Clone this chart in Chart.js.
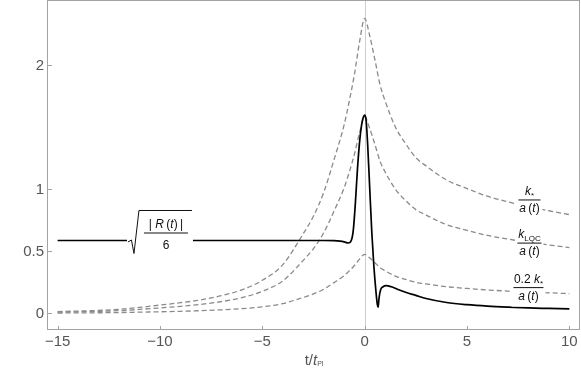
<!DOCTYPE html>
<html lang="en">
<head>
  <meta charset="UTF-8">
  <title>Bounce curvature scale</title>
  <style>
    body { margin: 0; padding: 0; background: #fff; overflow: hidden; }
    canvas { display: block; }
  </style>
</head>
<body>
<canvas id="bounceChart" width="581" height="372"></canvas>

<script src="https://cdn.jsdelivr.net/npm/chart.js"></script>
<script>
  // time grid for the k/a(t) curves (units of t_Pl)
  const tGrid = [-15, -14, -13, -12, -11, -10, -9, -8, -7, -6, -5, -4, -3, -2.5, -2, -1.5, -1, -0.75, -0.5, -0.25,
    0, 0.25, 0.5, 0.75, 1, 1.5, 2, 2.5, 3, 4, 5, 6, 7, 8, 9, 10];
  // k_* / a(t)
  const kStar = [0.014, 0.019, 0.024, 0.033, 0.048, 0.067, 0.086, 0.109, 0.143, 0.190, 0.267, 0.393, 0.643, 0.785, 0.976, 1.238, 1.523, 1.714, 1.928, 2.19,
    2.38, 2.237, 2.047, 1.845, 1.714, 1.504, 1.369, 1.257, 1.19, 1.076, 1.007, 0.945, 0.90, 0.862, 0.828, 0.797];
  // k_LQC / a(t)
  const kLqc = [0.010, 0.013, 0.016, 0.022, 0.032, 0.044, 0.057, 0.073, 0.095, 0.127, 0.178, 0.262, 0.428, 0.523, 0.650, 0.824, 1.014, 1.141, 1.284, 1.458,
    1.585, 1.490, 1.363, 1.228, 1.141, 1.002, 0.911, 0.837, 0.793, 0.716, 0.670, 0.629, 0.599, 0.574, 0.552, 0.531];
  // 0.2 k_* / a(t)
  const kStarSmall = [0.003, 0.004, 0.005, 0.007, 0.010, 0.013, 0.017, 0.022, 0.029, 0.038, 0.053, 0.079, 0.129, 0.157, 0.195, 0.248, 0.305, 0.343, 0.386, 0.438,
    0.476, 0.447, 0.409, 0.369, 0.343, 0.301, 0.274, 0.251, 0.238, 0.215, 0.201, 0.189, 0.180, 0.172, 0.166, 0.159];

  // sqrt(|R(t)|/6)
  const tR = [-15, -10, -5, -2, -1.5, -1.2, -1, -0.8, -0.65, -0.55, -0.45, -0.35, -0.25, -0.15, -0.07, 0,
    0.07, 0.15, 0.25, 0.35, 0.45, 0.55, 0.62, 0.66, 0.7, 0.78, 0.9, 1.05, 1.3, 1.6, 2, 2.5, 3, 4, 5, 6, 7, 8, 9, 10];
  const sqrtR = [0.588, 0.588, 0.588, 0.588, 0.587, 0.583, 0.577, 0.568, 0.59, 0.68, 0.9, 1.17, 1.38, 1.52, 1.58, 1.60,
    1.56, 1.35, 1.0, 0.65, 0.38, 0.18, 0.07, 0.05, 0.12, 0.19, 0.215, 0.224, 0.215, 0.195, 0.17, 0.145, 0.12, 0.088, 0.07, 0.058, 0.05, 0.044, 0.04, 0.036];

  const xTicks = [-15, -10, -5, 0, 5, 10];
  const yTicks = [0, 0.5, 1, 2];

  const FONT = '"Liberation Sans", Arial, sans-serif';
  const frameColor = '#a3a3a3';
  const labelColor = '#555';

  function pts(xs, ys) {
    return xs.map((x, i) => ({ x: x, y: ys[i] }));
  }

  // draw a row of text pieces centred on cx
  function drawRich(ctx, pieces, cx, y) {
    let w = 0;
    pieces.forEach(p => { ctx.font = p.f; p.w = ctx.measureText(p.t).width; w += p.w; });
    let x = cx - w / 2;
    ctx.textBaseline = 'alphabetic';
    ctx.textAlign = 'left';
    pieces.forEach(p => {
      ctx.font = p.f;
      ctx.fillText(p.t, x, y + (p.dy || 0));
      x += p.w;
    });
  }

  const it = s => 'italic ' + s + 'px ' + FONT;
  const rm = s => s + 'px ' + FONT;

  function aOfT(ctx, cx, y) {
    drawRich(ctx, [
      { t: 'a', f: it(12) }, { t: '\u2009(', f: rm(12) }, { t: 't', f: it(12) }, { t: ')', f: rm(12) }
    ], cx, y);
  }

  function fractionLabel(ctx, cx, barY, barW, top) {
    ctx.fillStyle = '#fff';
    ctx.fillRect(cx - barW / 2 - 2, barY - 17, barW + 4, 36);
    ctx.fillStyle = '#111';
    drawRich(ctx, top, cx, barY - 5);
    ctx.fillRect(cx - barW / 2, barY - 0.5, barW, 1);
    aOfT(ctx, cx, barY + 12);
  }

  const framePlugin = {
    id: 'framePlugin',
    beforeDatasetsDraw(chart) {
      const { ctx, chartArea: a, scales: { x } } = chart;
      const x0 = Math.round(x.getPixelForValue(0)) + 0.5;
      ctx.save();
      ctx.strokeStyle = '#cfcfcf';
      ctx.lineWidth = 1;
      ctx.beginPath();
      ctx.moveTo(x0, a.top);
      ctx.lineTo(x0, a.bottom);
      ctx.stroke();
      ctx.restore();
    },
    afterDatasetsDraw(chart) {
      const { ctx, chartArea: a, scales: { x, y } } = chart;
      ctx.save();

      // radical label on the black curve
      const rx = x.getPixelForValue(-10);
      const ry = y.getPixelForValue(0.588);
      ctx.fillStyle = '#fff';
      ctx.fillRect(rx - 33, ry - 35, 66, 52);
      ctx.strokeStyle = '#111';
      ctx.lineWidth = 1;
      ctx.beginPath();
      ctx.moveTo(rx - 32, ry + 1.5);
      ctx.lineTo(rx - 28.5, ry - 0.5);
      ctx.lineTo(rx - 26, ry + 13);
      ctx.lineTo(rx - 21, ry - 30);
      ctx.lineTo(rx + 32, ry - 30);
      ctx.stroke();
      ctx.fillStyle = '#111';
      drawRich(ctx, [
        { t: '| ', f: rm(12) }, { t: 'R', f: it(12) }, { t: '\u2009(', f: rm(12) },
        { t: 't', f: it(12) }, { t: ')\u2009|', f: rm(12) }
      ], rx + 6, ry - 12);
      ctx.fillRect(rx - 16, ry - 8, 44, 1);
      drawRich(ctx, [{ t: '6', f: rm(12) }], rx + 6, ry + 9);

      // k/a(t) labels on the dashed curves
      const lx = x.getPixelForValue(8.05);
      fractionLabel(ctx, lx, y.getPixelForValue(0.915), 22, [
        { t: 'k', f: it(12) }, { t: '*', f: rm(8), dy: 3 }
      ]);
      fractionLabel(ctx, lx, y.getPixelForValue(0.567), 24, [
        { t: 'k', f: it(12) }, { t: 'LQC', f: rm(8), dy: 3 }
      ]);
      fractionLabel(ctx, lx - 1, y.getPixelForValue(0.208), 30, [
        { t: '0.2 ', f: rm(12) }, { t: 'k', f: it(12) }, { t: '*', f: rm(8), dy: 3 }
      ]);

      // frame and inward ticks
      ctx.strokeStyle = frameColor;
      ctx.lineWidth = 1;
      ctx.strokeRect(a.left - 0.5, a.top + 0.5, a.right - a.left, a.bottom - a.top - 1);
      ctx.beginPath();
      yTicks.forEach(v => {
        const py = Math.round(y.getPixelForValue(v)) + 0.5;
        ctx.moveTo(a.left, py);
        ctx.lineTo(a.left + 4, py);
      });
      xTicks.forEach(v => {
        const px = Math.round(x.getPixelForValue(v)) + 0.5;
        ctx.moveTo(px, a.bottom);
        ctx.lineTo(px, a.bottom - 4);
      });
      ctx.stroke();

      // axis title t/t_Pl
      ctx.fillStyle = labelColor;
      drawRich(ctx, [
        { t: 't/', f: rm(15) }, { t: 't', f: it(15) }, { t: 'Pl', f: rm(7), dy: 1 }
      ], (a.left + a.right) / 2, 365);
      ctx.restore();
    }
  };

  const minus = v => (v < 0 ? '\u2212' + Math.abs(v) : String(v));

  new Chart(document.getElementById('bounceChart'), {
    type: 'scatter',
    data: {
      datasets: [
        {
          label: 'sqrt(|R(t)|/6)',
          data: pts(tR, sqrtR),
          showLine: true,
          borderColor: '#000',
          borderWidth: 1.7,
          pointRadius: 0,
          cubicInterpolationMode: 'monotone'
        },
        {
          label: 'k*/a(t)',
          data: pts(tGrid, kStar),
          showLine: true,
          borderColor: '#8a8a8a',
          borderWidth: 1.3,
          borderDash: [5, 3],
          pointRadius: 0,
          cubicInterpolationMode: 'monotone'
        },
        {
          label: 'kLQC/a(t)',
          data: pts(tGrid, kLqc),
          showLine: true,
          borderColor: '#8a8a8a',
          borderWidth: 1.3,
          borderDash: [5, 3],
          pointRadius: 0,
          cubicInterpolationMode: 'monotone'
        },
        {
          label: '0.2 k*/a(t)',
          data: pts(tGrid, kStarSmall),
          showLine: true,
          borderColor: '#8a8a8a',
          borderWidth: 1.3,
          borderDash: [5, 3],
          pointRadius: 0,
          cubicInterpolationMode: 'monotone'
        }
      ]
    },
    options: {
      responsive: false,
      animation: false,
      layout: { padding: { top: 0, right: 1, left: 0, bottom: 0 } },
      plugins: { legend: { display: false }, tooltip: { enabled: false } },
      scales: {
        x: {
          type: 'linear',
          min: -15.47,
          max: 10.52,
          grid: { display: false, drawTicks: false },
          border: { display: false },
          afterBuildTicks: s => { s.ticks = xTicks.map(v => ({ value: v })); },
          afterFit: s => { s.height = 42; s.paddingLeft = 0; s.paddingRight = 0; },
          ticks: {
            padding: 3,
            color: labelColor,
            font: { family: FONT, size: 15 },
            callback: v => minus(v)
          }
        },
        y: {
          type: 'linear',
          min: -0.134,
          max: 2.528,
          grid: { display: false, drawTicks: false },
          border: { display: false },
          afterBuildTicks: s => { s.ticks = yTicks.map(v => ({ value: v })); },
          afterFit: s => { s.width = 48; s.paddingTop = 0; s.paddingBottom = 0; },
          ticks: {
            padding: 4,
            color: labelColor,
            font: { family: FONT, size: 15 },
            callback: v => String(v)
          }
        }
      }
    },
    plugins: [framePlugin]
  });
</script>
</body>
</html>
